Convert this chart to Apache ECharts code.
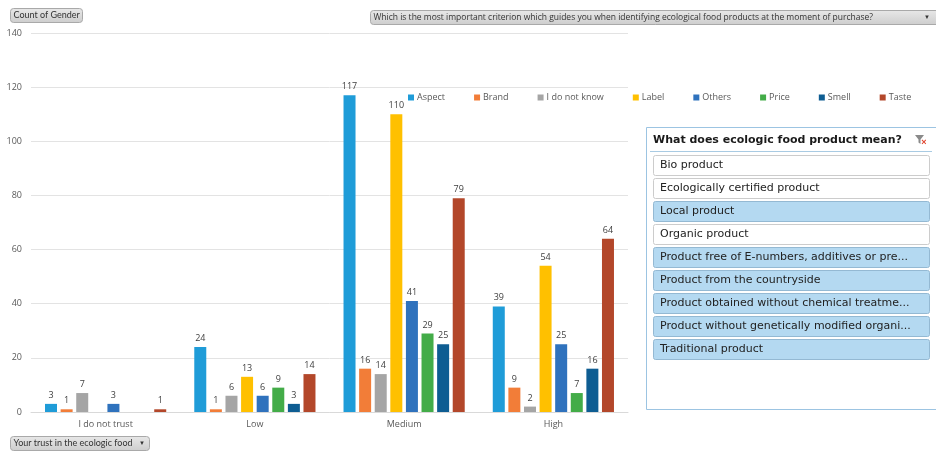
<!DOCTYPE html>
<html><head><meta charset="utf-8">
<script src="https://cdn.jsdelivr.net/npm/echarts@6/dist/echarts.min.js"></script>
<style>html,body{margin:0;padding:0;background:#fff}#c{width:936px;height:451px}</style>
</head><body><div id="c"></div>
<script>
const categories = ['I do not trust', 'Low', 'Medium', 'High'];
const seriesNames = ['Aspect', 'Brand', 'I do not know', 'Label', 'Others', 'Price', 'Smell', 'Taste'];
const aspect = [3, 24, 117, 39];
const brand = [1, 1, 16, 9];
const doNotKnow = [7, 6, 14, 2];
const label = [null, 13, 110, 54];
const others = [3, 6, 41, 25];
const price = [null, 9, 29, 7];
const smell = [null, 3, 25, 16];
const taste = [1, 14, 79, 64];
const yTicks = [0, 20, 40, 60, 80, 100, 120, 140];
const slicerTitle = 'What does ecologic food product mean?';
const slicerItems = ['Bio product', 'Ecologically certified product', 'Local product', 'Organic product',
  'Product free of E-numbers, additives or pre...', 'Product from the countryside',
  'Product obtained without chemical treatme...', 'Product without genetically modified organi...', 'Traditional product'];
const slicerSelected = [false, false, true, false, true, true, true, true, true];
const valueButton = 'Count of Gender';
const filterButton = 'Which is the most important criterion which guides you when identifying ecological food products at the moment of purchase?';
const axisButton = 'Your trust in the ecologic food';

const colors = ['#1f9cd8', '#f27d38', '#a5a5a5', '#ffc000', '#2f72bd', '#43ac48', '#0e5d92', '#b3472a'];
const values = [aspect, brand, doNotKnow, label, others, price, smell, taste];
const FONT = '"Open Sans", "Noto Sans", sans-serif';
const BFONT = 'Lato, "Open Sans", sans-serif';

const series = seriesNames.map((n, i) => ({
  name: n, type: 'bar', data: values[i],
  barWidth: 12, barGap: '30%', barCategoryGap: '19%',
  itemStyle: { color: colors[i] },
  label: { show: true, position: 'top', distance: 4, fontSize: 9, color: '#404040', fontFamily: FONT }
}));

function button(x, y, w, h, text, arrow, fs, font) {
  const ch = [{
    type: 'rect', shape: { x: x, y: y, width: w, height: h, r: 3 },
    style: { fill: new echarts.graphic.LinearGradient(0, 0, 0, 1, [{ offset: 0, color: '#e8e8e8' }, { offset: 1, color: '#cdcdcd' }]), stroke: '#a9a9a9', lineWidth: 1 }
  }, {
    type: 'text', x: x + 3, y: y + h / 2,
    style: { text: text, fontSize: fs, fontFamily: font, fill: '#333', verticalAlign: 'middle' }
  }];
  if (arrow) ch.push({ type: 'text', x: arrow, y: y + h / 2, style: { text: '▼', fontSize: 6, fill: '#333', verticalAlign: 'middle', align: 'center' } });
  return { type: 'group', children: ch };
}

const slicerChildren = [{
  type: 'rect', shape: { x: 646.5, y: 127.5, width: 295, height: 282 },
  style: { fill: '#fff', stroke: '#9cc4e2', lineWidth: 1 }
}, {
  type: 'line', shape: { x1: 650, y1: 151.5, x2: 932, y2: 151.5 }, style: { stroke: '#a9cbe3', lineWidth: 1 }
}, {
  type: 'text', x: 653, y: 140,
  style: { text: slicerTitle, fontSize: 11, fontWeight: 'bold', fontFamily: '"DejaVu Sans", sans-serif', fill: '#1a1a1a', verticalAlign: 'middle' }
}, {
  type: 'polygon', shape: { points: [[915, 135], [924, 135], [920.5, 139.5], [920.5, 144], [918.5, 142.5], [918.5, 139.5]] },
  style: { fill: '#8a8a8a' }
}, {
  type: 'text', x: 924, y: 143, style: { text: '×', fontSize: 9, fill: '#e0402a', align: 'center', verticalAlign: 'middle', fontWeight: 'bold' }
}];
slicerItems.forEach((t, i) => {
  const y = 155.5 + i * 23;
  slicerChildren.push({
    type: 'rect', shape: { x: 653.5, y: y, width: 276, height: 20, r: 2 },
    style: { fill: slicerSelected[i] ? '#b4d9f1' : '#ffffff', stroke: slicerSelected[i] ? '#94b9d3' : '#cccccc', lineWidth: 1 }
  }, {
    type: 'text', x: 660, y: y + 10,
    style: { text: t, fontSize: 11, fontFamily: '"DejaVu Sans", sans-serif', fill: '#222', verticalAlign: 'middle' }
  });
});

const chart = echarts.init(document.getElementById('c'), null, { renderer: 'canvas' });
chart.setOption({
  animation: false,
  textStyle: { fontFamily: FONT },
  grid: { left: 31, right: 308, top: 33, bottom: 39, containLabel: false },
  legend: {
    data: seriesNames, left: 403, top: 88, itemWidth: 6, itemHeight: 6, itemGap: 29, icon: 'rect',
    textStyle: { fontSize: 9, color: '#595959', fontFamily: FONT, padding: [0, 0, 0, -2] }
  },
  xAxis: {
    type: 'category', data: categories,
    axisLine: { lineStyle: { color: '#d9d9d9' } }, axisTick: { show: false },
    axisLabel: { fontSize: 9, color: '#595959', margin: 8 }
  },
  yAxis: {
    type: 'value', min: yTicks[0], max: yTicks[yTicks.length - 1], interval: yTicks[1] - yTicks[0],
    axisLine: { show: false }, axisTick: { show: false },
    splitLine: { lineStyle: { color: '#e3e3e3' } },
    axisLabel: { fontSize: 9, color: '#595959', margin: 9 }
  },
  series: series,
  graphic: [
    button(10.5, 8.5, 72, 14, valueButton, null, 9, BFONT),
    button(370.5, 10.5, 575, 14, filterButton, 927, 8.5, FONT),
    button(10.5, 436.5, 139, 14, axisButton, 142, 9, BFONT),
    { type: 'group', children: slicerChildren }
  ]
});
</script></body></html>
